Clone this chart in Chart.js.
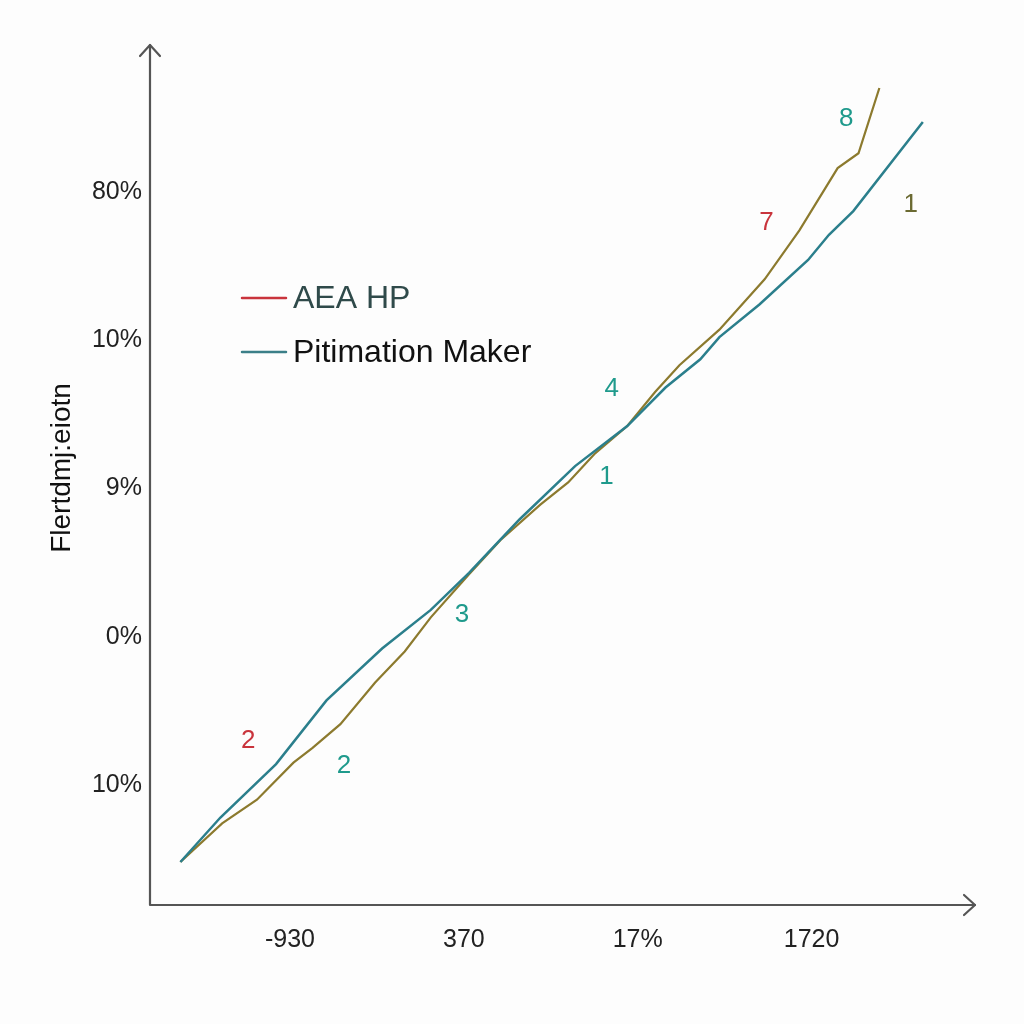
<!DOCTYPE html>
<html lang="en">
<head>
    <meta charset="UTF-8">
    <title>Chart</title>
    <style>
        body {
            margin: 0;
            background-color: #fdfdfd;
        }
        #wrap {
            width: 1024px;
            height: 1024px;
        }
    </style>
    <script src="https://cdn.jsdelivr.net/npm/chart.js"></script>
</head>
<body>
    <div id="wrap"><canvas id="grafico" width="1024" height="1024"></canvas></div>
    <script>
        // tick labels (evenly spaced positions on both axes)
        const xTickLabels = ['-930', '370', '17%', '1720'];
        const yTickLabels = ['10%', '0%', '9%', '10%', '80%'];

        // series, in tick-index units
        const tealX = [-0.63, -0.40, -0.08, 0.21, 0.53, 0.81, 1.03, 1.32, 1.64, 1.94, 2.16, 2.36, 2.47, 2.70, 2.98, 3.10, 3.24, 3.64];
        const tealY = [-0.52, -0.22, 0.14, 0.57, 0.92, 1.18, 1.43, 1.79, 2.15, 2.42, 2.68, 2.87, 3.02, 3.24, 3.54, 3.71, 3.87, 4.47];
        const oliveX = [-0.63, -0.39, -0.19, 0.02, 0.13, 0.29, 0.49, 0.66, 0.81, 1.03, 1.21, 1.44, 1.60, 1.75, 1.94, 2.10, 2.24, 2.47, 2.73, 2.93, 3.15, 3.27, 3.39];
        const oliveY = [-0.52, -0.26, -0.10, 0.15, 0.25, 0.41, 0.69, 0.90, 1.13, 1.42, 1.65, 1.89, 2.04, 2.23, 2.42, 2.65, 2.83, 3.07, 3.41, 3.74, 4.16, 4.26, 4.70];

        // little number labels along the lines
        const noteText = ['2', '2', '3', '4', '1', '7', '8', '1'];
        const noteX = [-0.24, 0.31, 0.99, 1.85, 1.82, 2.74, 3.20, 3.57];
        const noteY = [0.30, 0.13, 1.15, 2.67, 2.08, 3.79, 4.49, 3.91];
        const noteColor = ['#c9343c', '#1f9a8c', '#1f9a8c', '#1f9a8c', '#1f9a8c', '#c9343c', '#1f9a8c', '#6b6a32'];

        const legendNames = ['AEA HP', 'Pitimation Maker'];
        const legendColors = ['#c9343c', '#3b7f88'];
        const legendText = ['#2f4a4a', '#111111'];

        const fontFam = '"Liberation Sans", Arial, sans-serif';
        const toPoints = (xs, ys) => xs.map((x, i) => ({ x: x, y: ys[i] }));

        const extras = {
            id: 'extras',
            afterDraw(chart) {
                const ctx = chart.ctx;
                const a = chart.chartArea;
                const sx = chart.scales.x, sy = chart.scales.y;
                ctx.save();
                // axes with arrows
                ctx.strokeStyle = '#555';
                ctx.lineWidth = 2.2;
                ctx.lineCap = 'round';
                ctx.lineJoin = 'round';
                ctx.beginPath();
                ctx.moveTo(a.left, a.top);
                ctx.lineTo(a.left, a.bottom);
                ctx.lineTo(a.right, a.bottom);
                ctx.stroke();
                ctx.beginPath();
                ctx.moveTo(a.left - 10, a.top + 11);
                ctx.lineTo(a.left, a.top);
                ctx.lineTo(a.left + 10, a.top + 11);
                ctx.moveTo(a.right - 11, a.bottom - 10);
                ctx.lineTo(a.right, a.bottom);
                ctx.lineTo(a.right - 11, a.bottom + 10);
                ctx.stroke();

                // y title
                ctx.fillStyle = '#111';
                ctx.font = '28px ' + fontFam;
                ctx.textAlign = 'center';
                ctx.textBaseline = 'middle';
                ctx.translate(62, 468);
                ctx.rotate(-Math.PI / 2);
                ctx.fillText('Flertdmj:eiotn', 0, 0);
                ctx.setTransform(1, 0, 0, 1, 0, 0);

                // notes
                ctx.font = '26px ' + fontFam;
                noteText.forEach((t, i) => {
                    ctx.fillStyle = noteColor[i];
                    ctx.fillText(t, sx.getPixelForValue(noteX[i]), sy.getPixelForValue(noteY[i]));
                });

                // legend
                ctx.font = '32px ' + fontFam;
                ctx.textAlign = 'left';
                legendNames.forEach((n, i) => {
                    const y = 298 + i * 54;
                    ctx.strokeStyle = legendColors[i];
                    ctx.lineWidth = 2.5;
                    ctx.beginPath();
                    ctx.moveTo(242, y);
                    ctx.lineTo(286, y);
                    ctx.stroke();
                    ctx.fillStyle = legendText[i];
                    ctx.fillText(n, 293, y + 1);
                });
                ctx.restore();
            }
        };

        new Chart(document.getElementById('grafico'), {
            type: 'line',
            data: {
                datasets: [
                    {
                        label: legendNames[1],
                        data: toPoints(tealX, tealY),
                        borderColor: '#2b7f8c',
                        borderWidth: 2.5,
                        pointRadius: 0,
                        tension: 0
                    },
                    {
                        label: legendNames[0],
                        data: toPoints(oliveX, oliveY),
                        borderColor: '#8c7a2e',
                        borderWidth: 2.2,
                        pointRadius: 0,
                        tension: 0
                    }
                ]
            },
            options: {
                responsive: false,
                animation: false,
                layout: { padding: { top: 45, right: 49, left: 0, bottom: 0 } },
                plugins: { legend: { display: false }, tooltip: { enabled: false } },
                scales: {
                    x: {
                        type: 'linear',
                        min: -0.805,
                        max: 3.94,
                        afterBuildTicks: s => { s.ticks = xTickLabels.map((_, i) => ({ value: i })); },
                        afterFit: s => { s.height = 119; },
                        grid: { display: false, drawTicks: false },
                        border: { display: false },
                        ticks: {
                            padding: 20,
                            color: '#222',
                            font: { size: 25, family: fontFam },
                            callback: v => xTickLabels[v]
                        }
                    },
                    y: {
                        type: 'linear',
                        min: -0.81,
                        max: 4.99,
                        afterBuildTicks: s => { s.ticks = yTickLabels.map((_, i) => ({ value: i })); },
                        afterFit: s => { s.width = 150; },
                        grid: { display: false, drawTicks: false },
                        border: { display: false },
                        ticks: {
                            padding: 8,
                            color: '#222',
                            font: { size: 25, family: fontFam },
                            callback: v => yTickLabels[v]
                        }
                    }
                }
            },
            plugins: [extras]
        });
    </script>
</body>
</html>
